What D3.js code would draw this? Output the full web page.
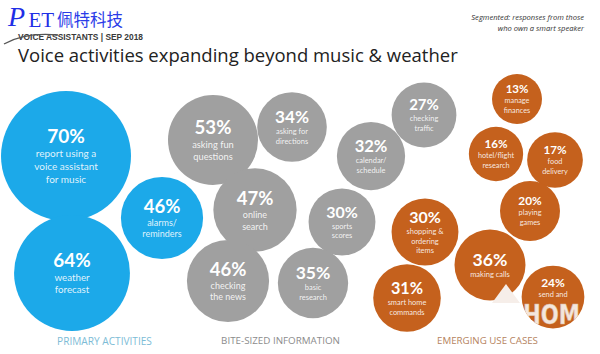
<!DOCTYPE html>
<html>
<head>
<meta charset="utf-8">
<script src="https://cdn.jsdelivr.net/npm/d3@7/dist/d3.min.js"></script>
<style>
  html, body { margin: 0; padding: 0; background: #fff; }
  svg { display: block; font-family: "Open Sans", "Noto Sans", sans-serif; }
</style>
</head>
<body>
<svg id="chart" width="600" height="354"></svg>
<script>
// ---------------- data ----------------
const groupNames = ["PRIMARY ACTIVITIES", "BITE-SIZED INFORMATION", "EMERGING USE CASES"];
const pctValues = [70, 64, 46, 53, 34, 32, 27, 47, 30, 46, 35, 13, 16, 17, 20, 30, 36, 31, 24];
const activityGroups = [0, 0, 0, 1, 1, 1, 1, 1, 1, 1, 1, 2, 2, 2, 2, 2, 2, 2, 2];
const activityLabels = [
  ["report using a", "voice assistant", "for music"],
  ["weather", "forecast"],
  ["alarms/", "reminders"],
  ["asking fun", "questions"],
  ["asking for", "directions"],
  ["calendar/", "schedule"],
  ["checking", "traffic"],
  ["online", "search"],
  ["sports", "scores"],
  ["checking", "the news"],
  ["basic", "research"],
  ["manage", "finances"],
  ["hotel/flight", "research"],
  ["food", "delivery"],
  ["playing", "games"],
  ["shopping &", "ordering", "items"],
  ["making calls"],
  ["smart home", "commands"],
  ["send and"]
];
const titleText = "Voice activities expanding beyond music & weather";
const subtitleLines = ["Segmented: responses from those", "who own a smart speaker"];
const headerText = "VOICE ASSISTANTS | SEP 2018";

// ---------------- layout (bubble-pack placement, in layout units) ----------------
const bubbleLayout = [
  [66, 156], [72, 273], [162, 218],
  [213, 140], [292, 127], [371, 156], [424, 115], [255, 210], [342, 222], [228, 281], [313, 283],
  [517, 99], [496, 154], [555, 160], [530, 211], [425, 232], [490, 265], [407, 298], [553, 297]
];
// number of text slots reserved (for the label partially hidden by the watermark)
const textSlots = {18: 3};
const groupLabelPos = [[104.5, 341], [280.5, 341], [487.5, 341]];
const groupLabelWidth = [95, 119, 101];

const groupColors = ["#1CA9E9", "#A0A0A0", "#C5611D"];
const groupLabelColors = ["#7DBCD6", "#8C8C8C", "#B5835E"];

// ---------------- scales ----------------
const svg = d3.select("#chart");
const W = 600, H = 354;
const x = d3.scaleLinear().domain([0, 600]).range([0, W]);
const y = d3.scaleLinear().domain([0, 354]).range([0, H]);
const r = d3.scaleLinear().domain([13, 20, 36, 53, 70]).range([25, 30, 35.5, 45, 65]);
const pctFont = d3.scaleLinear().domain([13, 24, 27, 35, 46, 70]).range([11.5, 12, 15, 17.5, 18.5, 19]);
const lblFont = d3.scaleLinear().domain([13, 36, 46, 70]).range([7.3, 7.5, 9, 10]);
const color = d3.scaleOrdinal().domain([0, 1, 2]).range(groupColors);

const items = pctValues.map((v, i) => ({
  v, i, g: activityGroups[i], labels: activityLabels[i],
  cx: x(bubbleLayout[i][0]), cy: y(bubbleLayout[i][1])
}));

// ---------------- header ----------------
const header = svg.append("g");
header.append("text")
  .attr("x", 8).attr("y", 26)
  .attr("font-family", "Liberation Serif, DejaVu Serif, serif")
  .attr("font-style", "italic").attr("font-size", 28)
  .attr("fill", "#1F2FE6").text("P");
header.append("text")
  .attr("x", 28.5).attr("y", 27)
  .attr("font-family", "Liberation Serif, DejaVu Serif, serif")
  .attr("font-size", 21)
  .attr("fill", "#1F2FE6").text("ET");
header.append("text")
  .attr("x", 57).attr("y", 26)
  .attr("font-family", "Noto Sans CJK SC, sans-serif")
  .attr("font-size", 16.5)
  .attr("fill", "#2A3BE8").text("佩特科技");
header.append("text")
  .attr("x", 18).attr("y", 40.3)
  .attr("font-family", "Liberation Sans, Arial, sans-serif")
  .attr("font-size", 8.4).attr("font-weight", 700)
  .attr("fill", "#3a3a3a").text(headerText)
  .attr("textLength", 125).attr("lengthAdjust", "spacingAndGlyphs");
header.append("path")
  .attr("d", "M4,44 Q25,32 58,35")
  .attr("fill", "none").attr("stroke", "#555").attr("stroke-width", 1.4);

const title = svg.append("text")
  .attr("x", 18).attr("y", 62)
  .attr("font-size", 19).attr("font-weight", 500)
  .attr("fill", "#222").text(titleText);
{
  const len = title.node().getComputedTextLength();
  title.attr("font-size", 19 * 440 / len);
}

svg.append("g").selectAll("text").data(subtitleLines).join("text")
  .attr("x", 584).attr("y", (d, i) => 20 + i * 10.5)
  .attr("text-anchor", "end")
  .attr("font-style", "italic").attr("font-size", 7.6)
  .attr("fill", "#333")
  .text(d => d);

// ---------------- bubbles ----------------
const bubbles = svg.append("g").selectAll("g").data(items).join("g")
  .attr("transform", d => `translate(${d.cx},${d.cy})`);

bubbles.append("circle")
  .attr("r", d => r(d.v))
  .attr("fill", d => color(d.g));

bubbles.each(function(d) {
  const g = d3.select(this);
  const pf = pctFont(d.v), lf = lblFont(d.v);
  const n = Math.max(d.labels.length, textSlots[d.i] || 0);
  const pctH = pf * 1.12, lh = lf * 1.32;
  const top = -(pctH + n * lh) / 2;
  g.append("text")
    .attr("y", top + pctH / 2)
    .attr("dy", "0.35em")
    .attr("text-anchor", "middle")
    .attr("font-family", "Lato, sans-serif")
    .attr("font-size", pf).attr("font-weight", 700)
    .attr("fill", "#fff")
    .text(d.v + "%");
  g.selectAll("text.lbl").data(d.labels).join("text")
    .attr("class", "lbl")
    .attr("y", (t, j) => top + pctH + (j + 0.5) * lh)
    .attr("dy", "0.35em")
    .attr("text-anchor", "middle")
    .attr("font-family", "Lato, sans-serif")
    .attr("font-size", lf)
    .attr("fill", "rgba(255,255,255,0.88)")
    .text(t => t);
});

// ---------------- watermark remnant ----------------
const last = items[18];
svg.append("clipPath").attr("id", "wmclip")
  .append("circle").attr("cx", last.cx).attr("cy", last.cy).attr("r", r(last.v));
svg.append("text")
  .attr("clip-path", "url(#wmclip)")
  .attr("x", last.cx - 30).attr("y", last.cy + 27)
  .attr("font-family", "Liberation Sans Narrow, DejaVu Sans Condensed, sans-serif")
  .attr("font-weight", 700).attr("font-size", 26)
  .attr("textLength", 57).attr("lengthAdjust", "spacingAndGlyphs")
  .attr("fill", "#F4E6DC").attr("stroke", "#d9b8a2").attr("stroke-width", 0.5)
  .text("HOM");
svg.append("path")
  .attr("d", `M${items[16].cx + 2},${items[16].cy + 38} L${items[16].cx + 16},${items[16].cy + 19} L${items[16].cx + 30},${items[16].cy + 38} Z`)
  .attr("fill", "#F6EEE9");

// ---------------- group labels ----------------
svg.append("g").selectAll("text").data(groupNames).join("text")
  .attr("x", (d, i) => x(groupLabelPos[i][0]))
  .attr("y", (d, i) => y(groupLabelPos[i][1]))
  .attr("dy", "0.35em")
  .attr("text-anchor", "middle")
  .attr("font-size", 9)
  .attr("fill", (d, i) => groupLabelColors[i])
  .text(d => d)
  .each(function(d, i) {
    const len = this.getComputedTextLength();
    d3.select(this).attr("font-size", 9 * groupLabelWidth[i] / len);
  });
</script>
</body>
</html>
